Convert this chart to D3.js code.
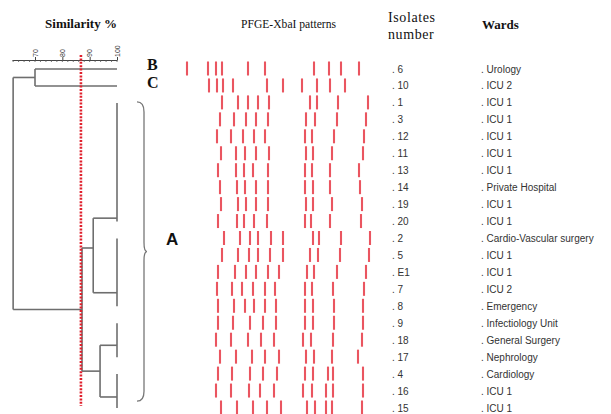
<!DOCTYPE html>
<html><head><meta charset="utf-8">
<script src="https://cdn.jsdelivr.net/npm/d3@7"></script>
<style>body{margin:0;background:#fff}svg{display:block}</style>
</head><body><svg id="c" width="611" height="414"></svg>
<script>
// ---- data ----
const isolates = ["6","10","1","3","12","11","13","14","19","20","2","5","E1","7","8","9","18","17","4","16","15"];
const wards = ["Urology","ICU 2","ICU 1","ICU 1","ICU 1","ICU 1","ICU 1","Private Hospital","ICU 1","ICU 1",
  "Cardio-Vascular surgery","ICU 1","ICU 1","ICU 2","Emergency","Infectiology Unit","General Surgery",
  "Nephrology","Cardiology","ICU 1","ICU 1"];
// band migration positions (lane units, 0..200) per isolate row
const bands = [
  [7,28,36,42,68,85,134,149,161,179],
  [29,37,43,53,87,103,122,137,150,165],
  [42,58,68,78,89,130,137,158,188],
  [40,54,66,76,88,126,135,157,186],
  [37,51,63,74,85,125,132,154,184],
  [41,56,65,76,89,126,133,152,183],
  [38,56,64,73,88,125,132,150,179],
  [40,57,65,76,88,125,133,150,180],
  [41,58,66,76,88,126,133,152,182],
  [38,57,64,74,87,125,131,150,181],
  [44,60,70,78,91,103,133,139,161,190],
  [42,58,69,78,90,103,130,138,160,189],
  [38,55,66,76,88,99,127,134,157,186],
  [37,52,62,73,85,95,125,132,153,184],
  [38,54,65,74,85,96,125,133,154,183],
  [38,53,70,83,96,125,133,154,183],
  [36,51,68,81,94,123,131,153,182],
  [40,56,72,85,99,126,134,152,178],
  [38,52,70,83,97,125,133,148,153,183],
  [36,51,69,80,94,123,132,146,153,183],
  [41,57,73,87,101,127,135,146,152,182]
];
const simTicks = [70, 80, 90, 100];
const simMinorTicks = d3.range(62, 101, 2);
const simAxisStart = 61.6;
const cutoff = 86.8;
// dendrogram: 100% groups (row ranges + attachment row) and joins
const groups = [
  {id:"g6",  from:0,  to:0,  at:0},
  {id:"g10", from:1,  to:1,  at:1},
  {id:"gA1", from:2,  to:9,  at:8.8},
  {id:"gA2", from:10, to:14, at:13.2},
  {id:"gA3", from:15, to:17, at:16.3},
  {id:"gA4", from:18, to:20, at:19.35}
];
const joins = [
  {id:"BC",   sim:70,   kids:["g6","g10"]},
  {id:"A12",  sim:91.3, kids:["gA1","gA2"], at:10.56},
  {id:"A34",  sim:93.8, kids:["gA3","gA4"]},
  {id:"A",    sim:87.2, kids:["A12","A34"]},
  {id:"root", sim:62,   kids:["BC","A"]}
];

// ---- scales ----
const svg = d3.select("#c");
const sx = d3.scaleLinear().domain([70, 100]).range([35, 117]);
const ry = d3.scaleLinear().domain([0, 20]).range([69, 408]);
const bx = d3.scaleLinear().domain([0, 200]).range([180, 380]);

const serif = "'Liberation Serif','Times New Roman',serif";
const sans = "'Liberation Sans',Arial,sans-serif";
const grey = "#6e6e6e";

// ---- titles ----
svg.append("text").attr("x", 81).attr("y", 28).attr("text-anchor", "middle")
  .attr("font-family", serif).attr("font-weight", "bold").attr("font-size", 13).attr("fill", "#111")
  .text("Similarity %");
svg.append("text").attr("x", 241).attr("y", 28)
  .attr("font-family", serif).attr("font-size", 11.6).attr("fill", "#111")
  .text("PFGE-XbaI patterns");
svg.append("text").attr("x", 388).attr("y", 22)
  .attr("font-family", serif).attr("font-size", 14).attr("letter-spacing", 0.6).attr("fill", "#111")
  .text("Isolates");
svg.append("text").attr("x", 388).attr("y", 39)
  .attr("font-family", serif).attr("font-size", 14).attr("letter-spacing", 0.6).attr("fill", "#111")
  .text("number");
svg.append("text").attr("x", 482).attr("y", 29)
  .attr("font-family", serif).attr("font-weight", "bold").attr("font-size", 13).attr("fill", "#111")
  .text("Wards");

// ---- similarity axis ----
const axisY = 60;
const axScale = sx.copy().domain([simAxisStart, 100]).range([sx(simAxisStart), sx(100)]);
const ax = svg.append("g").attr("transform", `translate(0,${axisY})`);
ax.call(d3.axisTop(axScale).tickValues(simTicks).tickSize(3).tickSizeOuter(0).tickFormat(d3.format("d")));
ax.select(".domain").attr("stroke", "#444").attr("stroke-width", 1);
ax.selectAll(".tick line").attr("stroke", "#444");
ax.selectAll(".tick text")
  .attr("font-family", sans).attr("font-size", 7).attr("fill", "#333")
  .attr("transform", "rotate(-90)").attr("text-anchor", "start")
  .attr("x", 3).attr("y", 0).attr("dy", "0.32em");
ax.selectAll("line.minor").data(simMinorTicks).join("line").attr("class", "minor")
  .attr("x1", d => axScale(d)).attr("x2", d => axScale(d))
  .attr("y1", 0).attr("y2", 2).attr("stroke", "#555").attr("stroke-width", 0.8);

// ---- dendrogram ----
const nodes = {};
groups.forEach(g => { nodes[g.id] = {sim: 100, y: ry(g.at)}; });
joins.forEach(j => {
  const ys = j.kids.map(k => nodes[k].y);
  nodes[j.id] = {sim: j.sim, y: j.at != null ? ry(j.at) : (ys[0] + ys[1]) / 2};
});
const dg = svg.append("g").attr("stroke", grey).attr("stroke-width", 1.6).attr("fill", "none");
dg.selectAll("line.grp").data(groups.filter(g => g.to > g.from)).join("line").attr("class", "grp")
  .attr("x1", sx(100)).attr("x2", sx(100))
  .attr("y1", d => ry(d.from)).attr("y2", d => ry(d.to));
joins.forEach(j => {
  const ys = j.kids.map(k => nodes[k].y);
  dg.append("line").attr("x1", sx(j.sim)).attr("x2", sx(j.sim))
    .attr("y1", d3.min(ys)).attr("y2", d3.max(ys));
  j.kids.forEach(k => {
    dg.append("line").attr("x1", sx(j.sim)).attr("x2", sx(nodes[k].sim))
      .attr("y1", nodes[k].y).attr("y2", nodes[k].y);
  });
});

// cutoff line
svg.append("line").attr("x1", sx(cutoff)).attr("x2", sx(cutoff))
  .attr("y1", 55).attr("y2", 406)
  .attr("stroke", "#e0202c").attr("stroke-width", 2.6).attr("stroke-dasharray", "2,1.4");

// ---- cluster labels ----
svg.append("text").attr("x", 147).attr("y", 70)
  .attr("font-family", serif).attr("font-weight", "bold").attr("font-size", 16).attr("fill", "#111").text("B");
svg.append("text").attr("x", 147).attr("y", 87.5)
  .attr("font-family", serif).attr("font-weight", "bold").attr("font-size", 16).attr("fill", "#111").text("C");
svg.append("text").attr("x", 166).attr("y", 245)
  .attr("font-family", sans).attr("font-weight", "bold").attr("font-size", 17).attr("fill", "#111").text("A");

// brace
const bTop = ry(2) - 1, bBot = ry(19.6), bMid = (bTop + bBot) / 2;
svg.append("path")
  .attr("d", `M137,${bTop} Q144,${bTop} 144,${bTop + 10} L144,${bMid - 9} Q144,${bMid} 147,${bMid}
             Q144,${bMid} 144,${bMid + 9} L144,${bBot - 10} Q144,${bBot} 137,${bBot}`)
  .attr("fill", "none").attr("stroke", "#777").attr("stroke-width", 1.3);

// ---- band patterns ----
const bg = svg.append("g");
bands.forEach((row, i) => {
  bg.selectAll(null).data(row).join("line")
    .attr("x1", d => bx(d)).attr("x2", d => bx(d))
    .attr("y1", ry(i) - 7.5).attr("y2", ry(i) + 6.5)
    .attr("stroke", "#e8434f").attr("stroke-width", 2.1).attr("stroke-opacity", 0.9);
});

// ---- isolate & ward labels ----
svg.append("g").selectAll("text").data(isolates).join("text")
  .attr("x", 392).attr("y", (d, i) => ry(i)).attr("dy", "0.35em")
  .attr("font-family", sans).attr("font-size", 10).attr("fill", "#333")
  .text(d => ". " + d);
svg.append("g").selectAll("text").data(wards).join("text")
  .attr("x", 481).attr("y", (d, i) => ry(i)).attr("dy", "0.35em")
  .attr("font-family", sans).attr("font-size", 10).attr("fill", "#333")
  .text(d => ". " + d);
</script></body></html>
